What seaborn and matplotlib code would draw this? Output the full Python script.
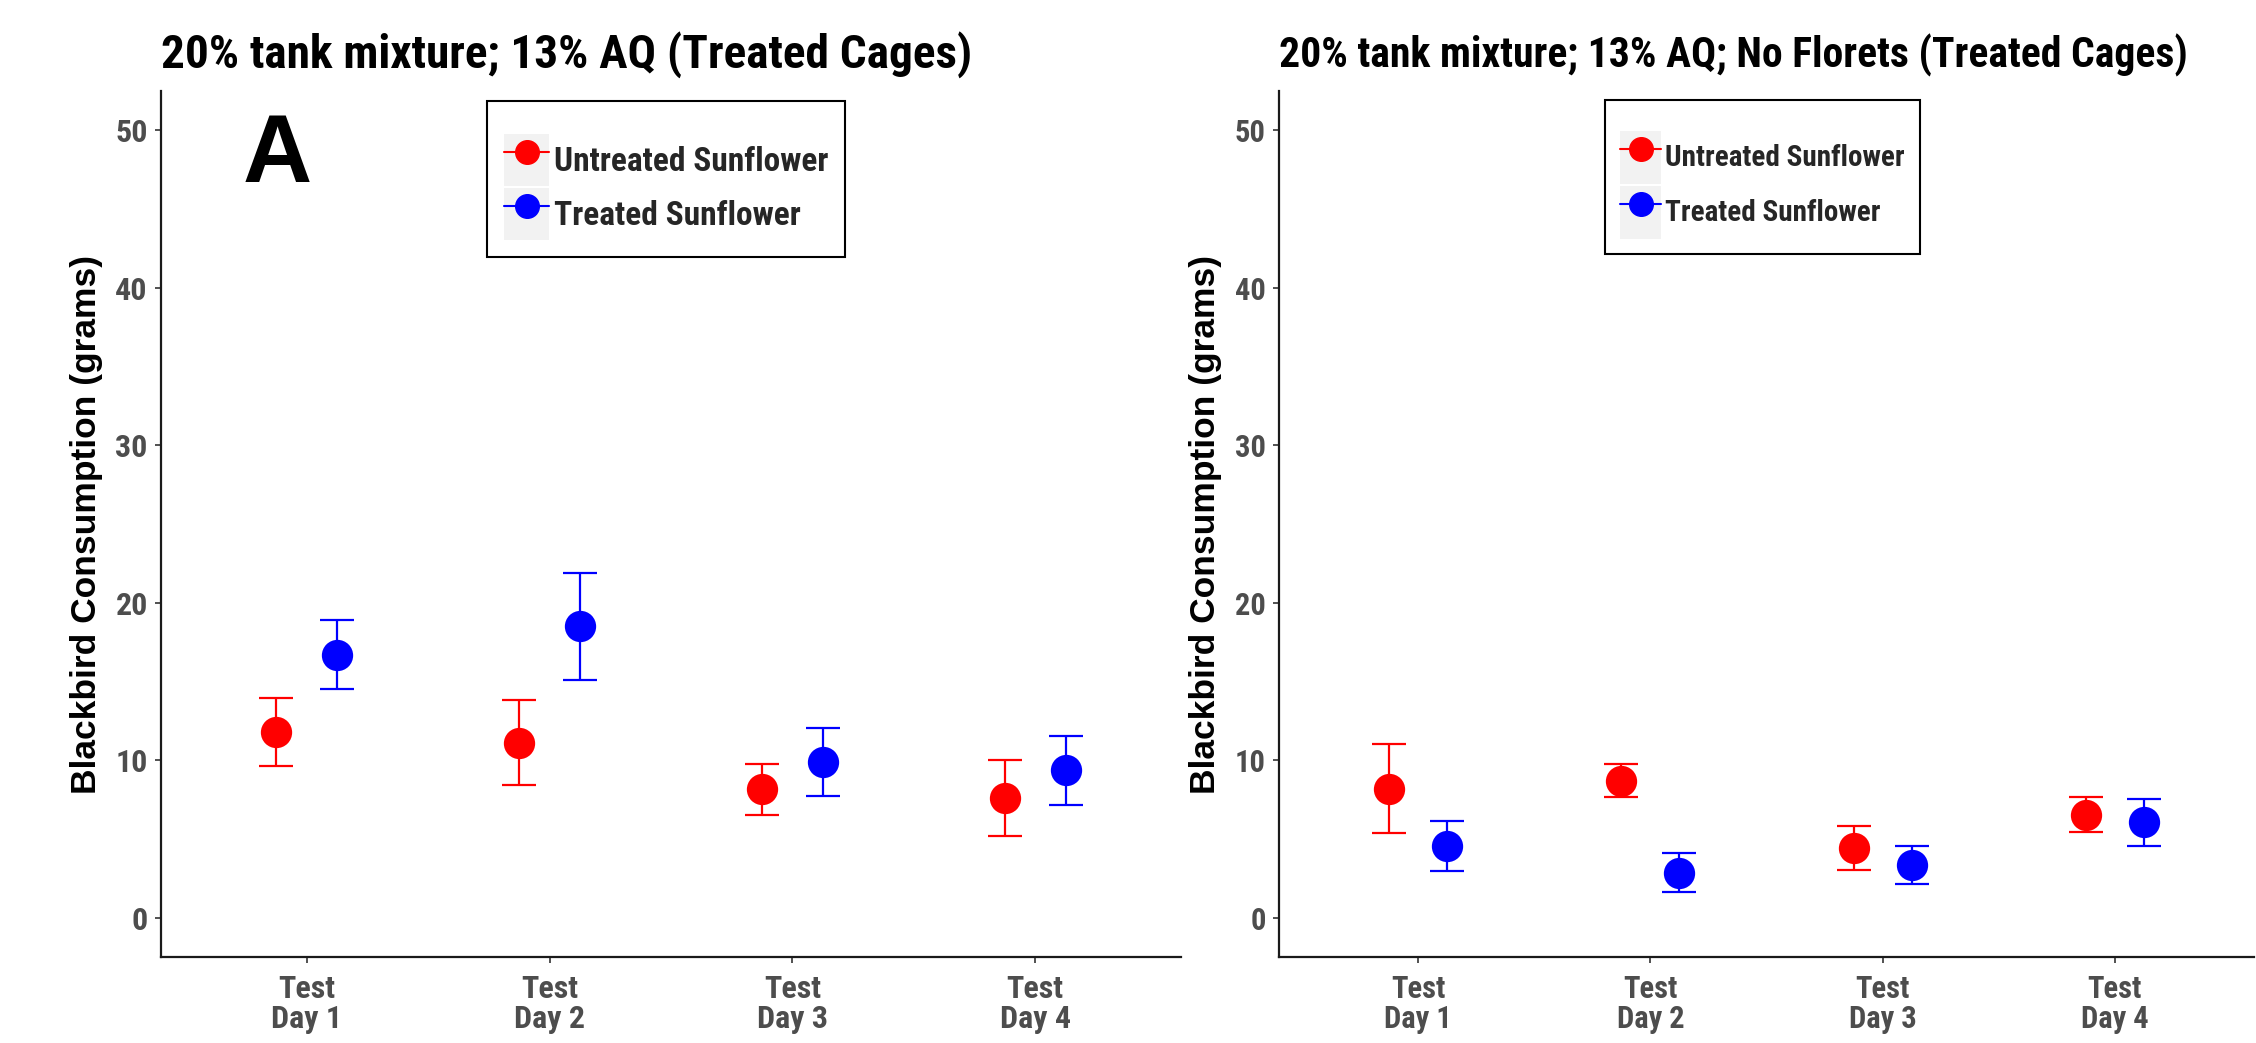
import matplotlib
matplotlib.use("Agg")
import matplotlib.pyplot as plt
from matplotlib import font_manager as fm
from matplotlib.lines import Line2D
from matplotlib.patches import Rectangle
from matplotlib.legend_handler import HandlerLine2D
import pandas as pd
import seaborn as sns

# ---- data -------------------------------------------------------------
days = ["Test\nDay 1", "Test\nDay 2", "Test\nDay 3", "Test\nDay 4"]
groups = ["Untreated Sunflower", "Treated Sunflower"]
colors = {"Untreated Sunflower": "#FF0000", "Treated Sunflower": "#0000FF"}

# panel A: florets present
a_untreated_mean = [11.8, 11.1, 8.15, 7.6]
a_untreated_err = [2.15, 2.7, 1.63, 2.4]
a_treated_mean = [16.7, 18.5, 9.9, 9.35]
a_treated_err = [2.2, 3.4, 2.15, 2.2]

# panel B: no florets
b_untreated_mean = [8.2, 8.7, 4.45, 6.55]
b_untreated_err = [2.8, 1.05, 1.4, 1.1]
b_treated_mean = [4.55, 2.85, 3.35, 6.05]
b_treated_err = [1.6, 1.25, 1.2, 1.5]

title_a = "20% tank mixture; 13% AQ (Treated Cages)"
title_b = "20% tank mixture; 13% AQ; No Florets (Treated Cages)"
y_label = "Blackbird Consumption (grams)"
y_ticks = [0, 10, 20, 30, 40, 50]

# ---- fonts ------------------------------------------------------------
sns.set_style("ticks")
available = {f.name for f in fm.fontManager.ttflist}
narrow = next((n for n in ["Liberation Sans Narrow", "Arial Narrow",
                           "Roboto Condensed", "Open Sans Condensed",
                           "Noto Sans Condensed", "DejaVu Sans Condensed"]
               if n in available), "Liberation Sans")
wide = "Liberation Sans" if "Liberation Sans" in available else "DejaVu Sans"
plt.rcParams["font.family"] = [narrow, "DejaVu Sans"]

TICK_GREY = "#4D4D4D"
PX = 72 / 100  # points per pixel at 100 dpi


class KeyHandler(HandlerLine2D):
    """Legend key drawn on a light grey square, ggplot style."""

    def create_artists(self, legend, orig_handle, xdescent, ydescent,
                       width, height, fontsize, trans):
        bg = Rectangle((-xdescent, -ydescent), width, height,
                       facecolor="#F2F2F2", edgecolor="none",
                       transform=trans)
        arts = super().create_artists(legend, orig_handle, xdescent,
                                      ydescent, width, height, fontsize, trans)
        return [bg] + list(arts)


def panel(ax, u_mean, u_err, t_mean, t_err, title, tick_fs, leg_fs,
          title_fs, legend_anchor, labelpad, key_w, key_h, box_pad):
    df = pd.DataFrame({
        "day": days * 2,
        "group": [groups[0]] * 4 + [groups[1]] * 4,
        "value": list(u_mean) + list(t_mean),
    })
    errs = {groups[0]: u_err, groups[1]: t_err}

    sns.pointplot(data=df, x="day", y="value", hue="group", order=days,
                  hue_order=groups, palette=colors, dodge=0.25,
                  linestyle="none", markers="o", errorbar=None,
                  markersize=20.5, legend=False, ax=ax, zorder=3)

    point_lines = [ln for ln in ax.lines if ln.get_marker() == "o"]
    for ln, grp in zip(point_lines, groups):
        ax.errorbar(ln.get_xdata(), ln.get_ydata(), yerr=errs[grp],
                    fmt="none", ecolor=colors[grp], elinewidth=1.6,
                    capsize=12.5, capthick=1.6, zorder=2)

    ax.set_xlim(-0.6, 3.6)
    ax.set_ylim(-2.5, 52.5)
    ax.set_yticks(y_ticks)
    ax.set_xlabel("")
    ax.set_ylabel(y_label, fontsize=25.5, fontweight="bold",
                  family=[wide, "DejaVu Sans"], color="black",
                  labelpad=labelpad)
    ax.set_title(title, loc="left", fontsize=title_fs, fontweight="bold",
                 pad=17, color="black")

    for side in ("top", "right"):
        ax.spines[side].set_visible(False)
    for side in ("left", "bottom"):
        ax.spines[side].set_color("#1A1A1A")
        ax.spines[side].set_linewidth(1.6)
    ax.tick_params(axis="both", direction="out", length=4.5, width=1.2,
                   color="#333333", labelcolor=TICK_GREY,
                   labelsize=tick_fs)
    ax.tick_params(axis="x", pad=8)
    ax.tick_params(axis="y", pad=5)
    for lab in ax.get_xticklabels() + ax.get_yticklabels():
        lab.set_fontweight("bold")
    for lab in ax.get_xticklabels():
        lab.set_linespacing(1.0)

    # legend geometry given in pixels, converted to font-size units
    fs_px = leg_fs / PX
    key_h_fs = key_h / fs_px
    handleheight = (key_h_fs - 0.245) / 0.65  # undo the legend's descent
    handles = [Line2D([], [], color=colors[g], marker="o", markersize=17,
                      linewidth=1.5) for g in groups]
    leg = ax.legend(handles, groups, loc="upper left",
                    bbox_to_anchor=legend_anchor,
                    bbox_transform=ax.figure.transFigure,
                    borderaxespad=0, title=" ", title_fontsize=11,
                    frameon=True, fancybox=False,
                    handlelength=key_w / fs_px, handleheight=handleheight,
                    handletextpad=0.15, labelspacing=2 / fs_px,
                    borderpad=box_pad / fs_px,
                    handler_map={Line2D: KeyHandler()},
                    prop={"family": [narrow, "DejaVu Sans"],
                          "weight": "bold", "size": leg_fs})
    frame = leg.get_frame()
    frame.set_edgecolor("black")
    frame.set_linewidth(1.5)
    frame.set_facecolor("white")
    frame.set_alpha(1)
    return ax


W, H = 2256, 1043
fig = plt.figure(figsize=(W / 100, H / 100), dpi=100)
fig.patch.set_facecolor("white")

ax_a = fig.add_axes([161 / W, 1 - 957 / H, 1020 / W, 866 / H])
ax_b = fig.add_axes([1279 / W, 1 - 957 / H, 975 / W, 866 / H])

panel(ax_a, a_untreated_mean, a_untreated_err, a_treated_mean,
      a_treated_err, title_a, tick_fs=23, leg_fs=24, title_fs=34,
      legend_anchor=(487 / W, 1 - 101 / H), labelpad=9,
      key_w=45, key_h=52, box_pad=17)
panel(ax_b, b_untreated_mean, b_untreated_err, b_treated_mean,
      b_treated_err, title_b, tick_fs=22, leg_fs=21, title_fs=30,
      legend_anchor=(1605 / W, 1 - 100 / H), labelpad=9,
      key_w=41, key_h=53, box_pad=15)

ax_a.text(82 / 1020, (957 - 182) / 866, "A", transform=ax_a.transAxes,
          fontsize=69, fontweight="bold", family=[wide, "DejaVu Sans"],
          ha="left", va="baseline", color="black")

fig.savefig("out.png", dpi=100, facecolor="white")
